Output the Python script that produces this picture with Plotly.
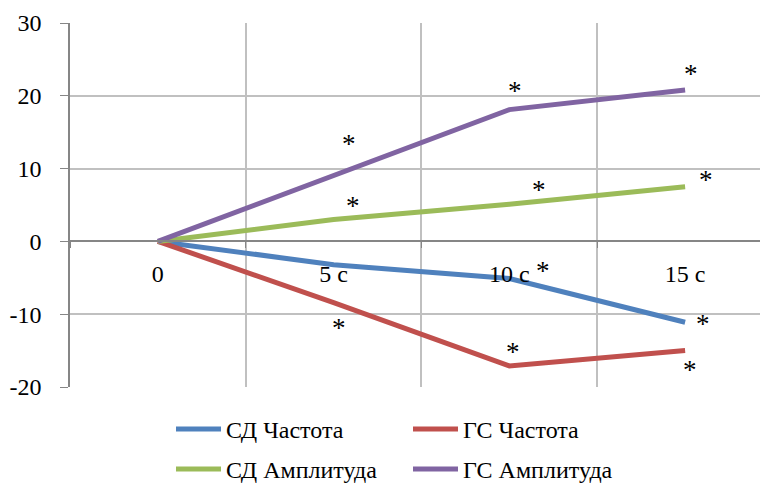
import plotly.graph_objects as go

# Categories (time after stimulus)
categories = ["0", "5 с", "10 с", "15 с"]

# Series values, % change from baseline
sd_freq = [0, -3.2, -5.1, -11.1]
gs_freq = [0, -8.4, -17.1, -15.0]
sd_ampl = [0, 3.0, 5.1, 7.5]
gs_ampl = [0, 9.0, 18.1, 20.8]

# Value axis ticks
y_ticks = [-20, -10, 0, 10, 20, 30]
y_tick_text = ["-20", "-10", "0", "10", "20", "30"]

series_names = ["СД Частота", "ГС Частота", "СД Амплитуда", "ГС Амплитуда"]
series_values = [sd_freq, gs_freq, sd_ampl, gs_ampl]
series_colors = ["#4F81BD", "#C0504D", "#9BBB59", "#8064A2"]
series_legend = ["legend", "legend", "legend2", "legend2"]

# Significance marks: (category index, pixel offset x, pixel offset y) per series
sig_marks = {
    "СД Частота": [(2, 34, 14), (3, 18, 4)],
    "ГС Частота": [(1, 5, -19), (2, 4, 20), (3, 5, -13)],
    "СД Амплитуда": [(1, 19, 20), (2, 30, 20), (3, 21, 13)],
    "ГС Амплитуда": [(1, 15, 38), (2, 6, 25), (3, 6, 22)],
}

FONT = "Liberation Serif, Times New Roman, serif"
FSIZE = 24
AXIS_GREY = "#868686"
GRID_GREY = "#C0C0C0"

fig = go.Figure()
for name, vals, col, lg in zip(series_names, series_values, series_colors, series_legend):
    fig.add_trace(go.Scatter(
        x=categories, y=vals, name=name, mode="lines",
        line=dict(color=col, width=5), legend=lg,
    ))

annotations = []
for name, vals in zip(series_names, series_values):
    for idx, dx, dy in sig_marks[name]:
        annotations.append(dict(
            x=categories[idx], y=vals[idx], text="*", showarrow=False,
            xshift=dx, yshift=dy - 6, xanchor="center", yanchor="middle",
            font=dict(family=FONT, size=27, color="black"),
        ))

legend_style = dict(
    orientation="h", xref="container", yref="container",
    xanchor="left", yanchor="top",
    entrywidth=177, entrywidthmode="pixels", itemwidth=45,
    font=dict(family=FONT, size=FSIZE, color="black"),
    bgcolor="rgba(0,0,0,0)",
)

fig.update_layout(
    width=760, height=486,
    margin=dict(l=70, r=0, t=23, b=99, autoexpand=False),
    paper_bgcolor="white", plot_bgcolor="white",
    font=dict(family=FONT, size=FSIZE, color="black"),
    annotations=annotations,
    legend=dict(x=0.225, y=1 - 407 / 486, **legend_style),
    legend2=dict(x=0.225, y=1 - 447 / 486, **legend_style),
    showlegend=True,
)

fig.update_xaxes(
    type="category", categoryorder="array", categoryarray=categories,
    range=[-0.5, 3.5 - 13 / 176],
    anchor="free", position=0.4, automargin=False,
    showline=True, linecolor=AXIS_GREY, linewidth=1.5,
    ticks="outside", tickson="boundaries", ticklen=6, tickcolor=AXIS_GREY,
    showgrid=True, gridcolor=GRID_GREY, gridwidth=1.5,
    tickfont=dict(family=FONT, size=FSIZE, color="black"),
    ticklabelstandoff=11,
)

fig.update_yaxes(
    range=[-20, 30], tickvals=y_ticks, ticktext=y_tick_text, automargin=False,
    showline=True, linecolor=AXIS_GREY, linewidth=1.5,
    ticks="outside", ticklen=8, tickcolor=AXIS_GREY,
    showgrid=True, gridcolor=GRID_GREY, gridwidth=1.5,
    zeroline=False,
    tickfont=dict(family=FONT, size=FSIZE, color="black"),
    ticklabelstandoff=14,
)

fig.write_html("out.html")
